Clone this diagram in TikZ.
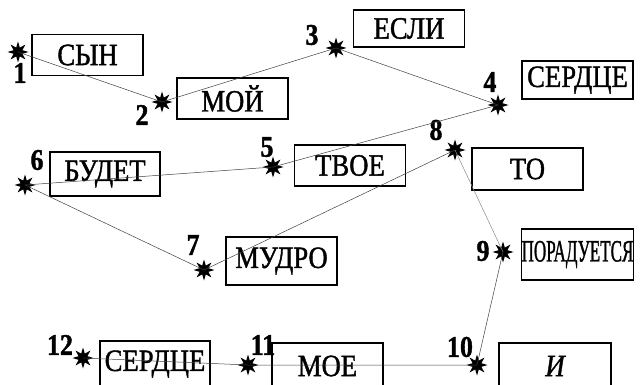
\documentclass[tikz,border=0pt]{standalone}
\usepackage{fontspec}
\setmainfont[FakeStretch=0.86,FakeBold=1.3]{Liberation Serif}
\usetikzlibrary{shapes.geometric,positioning}

\begin{document}
\begin{tikzpicture}[x=1pt, y=-1pt,
    word/.style = {draw, line width=1.5pt, minimum width=111pt,
      minimum height=41pt, inner sep=0pt, font=\fontsize{31}{31}\selectfont},
    burst/.style = {star, star points=8, star point ratio=2.2, fill=black,
      minimum size=21pt, inner sep=0pt},
    num/.style = {font=\fontsize{30}{30}\selectfont\bfseries, inner sep=0pt},
    link/.style = {draw=black!75, line width=0.5pt}]
  \useasboundingbox (0,0) rectangle (640,385);
  \clip (0,0) rectangle (640,385);
  % words
  \node[word] (syn) at (87.5,55) {СЫН};
  \node[word] (moj) at (232.5,98.5) {МОЙ};
  \node[word, minimum height=37pt] (esli) at (409,28.5) {ЕСЛИ};
  \node[word, minimum height=38pt] (serdce) at (577.5,80) {СЕРДЦЕ};
  \node[word, minimum width=110pt, minimum height=44pt] (budet) at (105,174) {БУДЕТ};
  \node[word] (tvoe) at (350,165.5) {ТВОЕ};
  \node[word, minimum height=42pt] (to) at (527.5,169) {ТО};
  \node[word, minimum height=48pt] (mudro) at (281.5,261) {МУДРО};
  \node[word, minimum height=51pt] (poraduetsya) at (577.5,254.5) {\scalebox{0.64}[1]{ПОРАДУЕТСЯ}};
  \node[word, minimum width=110pt, minimum height=46pt] (serdce2) at (155,364) {СЕРДЦЕ};
  \node[word, minimum height=46pt] (moe) at (327.5,366) {МОЕ};
  \node[word, minimum width=112pt, minimum height=46pt] (i) at (555,366) {\itshape И};
  % stars
  \node[burst] (s1) at (18,52) {};
  \node[burst] (s2) at (162,102) {};
  \node[burst] (s3) at (336,48) {};
  \node[burst] (s4) at (498,105) {};
  \node[burst] (s5) at (273,167) {};
  \node[burst] (s6) at (25,185) {};
  \node[burst] (s7) at (204,270) {};
  \node[burst] (s8) at (455,150) {};
  \node[burst] (s9) at (503,252) {};
  \node[burst] (s10) at (477,365) {};
  \node[burst] (s11) at (248,365) {};
  \node[burst] (s12) at (83,358) {};
  % numbers
  \node[num] (n1) at (20,73) {1};
  \node[num] (n2) at (142,115) {2};
  \node[num] (n3) at (312,35) {3};
  \node[num] (n4) at (490,82) {4};
  \node[num] (n5) at (267,147) {5};
  \node[num] (n6) at (37,160) {6};
  \node[num] (n7) at (193,245) {7};
  \node[num] (n8) at (436,130) {8};
  \node[num] (n9) at (483,251) {9};
  \node[num] (n10) at (460,347) {10};
  \node[num] (n11) at (263,345) {11};
  \node[num] (n12) at (60,345) {12};
  % links
  \draw[link] (s1.center) -- (s2.center) -- (s3.center) -- (s4.center)
    -- (s5.center) -- (s6.center) -- (s7.center) -- (s8.center);
  \draw[link, draw=black!45] (s8.center) -- (s9.center);
  \draw[link] (s9.center) -- (s10.center) -- (s11.center) -- (s12.center);
\end{tikzpicture}
\end{document}
